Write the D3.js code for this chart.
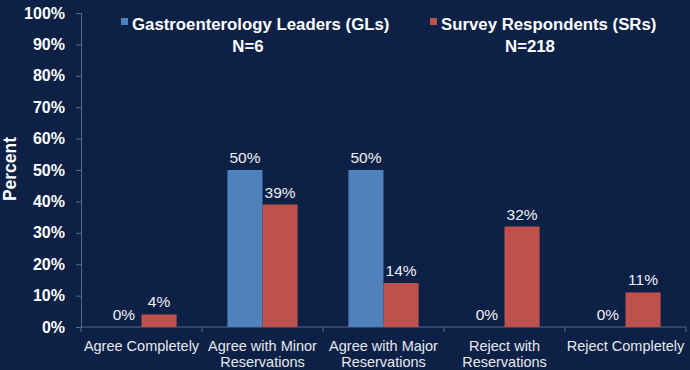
<!DOCTYPE html>
<html>
<head>
<meta charset="utf-8">
<script src="https://cdn.jsdelivr.net/npm/d3@7"></script>
<style>
  html, body { margin: 0; padding: 0; background: #0b2145; }
  svg { display: block; font-family: Arial, "Liberation Sans", sans-serif; }
</style>
</head>
<body>
<div id="chart"></div>
<script>
// Data
const categories = [
  ['Agree Completely'],
  ['Agree with Minor', 'Reservations'],
  ['Agree with Major', 'Reservations'],
  ['Reject with', 'Reservations'],
  ['Reject Completely']
];
const seriesNames = ['Gastroenterology Leaders (GLs)', 'Survey Respondents (SRs)'];
const seriesN = ['N=6', 'N=218'];
const glValues = [0, 50, 50, 0, 0];
const srValues = [4, 39, 14, 32, 11];
const yTicks = [0, 10, 20, 30, 40, 50, 60, 70, 80, 90, 100];

const colors = ['#4f81bd', '#c0504d'];
const width = 690;
const height = 370;
const plotLeft = 81, plotRight = 686, plotTop = 13, plotBottom = 327;

const svg = d3.select('#chart').append('svg')
  .attr('width', width)
  .attr('height', height);

svg.append('rect')
  .attr('width', width)
  .attr('height', height)
  .attr('fill', '#0c2145');

const x = d3.scaleBand()
  .domain(d3.range(categories.length))
  .range([plotLeft, plotRight])
  .paddingInner(0.42)
  .paddingOuter(0.21);

const xSeries = d3.scaleBand()
  .domain([0, 1])
  .range([0, x.bandwidth()]);

const y = d3.scaleLinear()
  .domain([0, 100])
  .range([plotBottom, plotTop]);

// y axis
const yAxis = svg.append('g')
  .attr('transform', `translate(${plotLeft},0)`)
  .call(d3.axisLeft(y).tickValues(yTicks).tickFormat(d => d + '%').tickSize(5).tickPadding(11));
yAxis.select('.domain').attr('stroke', '#5a6a84');
yAxis.selectAll('.tick line').attr('stroke', '#5a6a84');
yAxis.selectAll('.tick text')
  .attr('fill', '#ffffff')
  .attr('font-size', '16px')
  .attr('font-weight', 'bold')
  .attr('font-family', 'Arial, "Liberation Sans", sans-serif');

// x axis (ticks at category boundaries)
const boundaries = d3.range(categories.length + 1).map(i => plotLeft + i * x.step());
svg.append('line')
  .attr('x1', plotLeft).attr('x2', plotRight)
  .attr('y1', plotBottom).attr('y2', plotBottom)
  .attr('stroke', '#5a6a84');
svg.selectAll('.xtick')
  .data(boundaries)
  .enter()
  .append('line')
  .attr('x1', d => d).attr('x2', d => d)
  .attr('y1', plotBottom).attr('y2', plotBottom + 5)
  .attr('stroke', '#5a6a84');

// category labels
const catLabels = svg.selectAll('.cat')
  .data(categories)
  .enter()
  .append('text')
  .attr('text-anchor', 'middle')
  .attr('fill', '#e6e9ef')
  .attr('font-size', '14.5px');
catLabels.each(function(lines, i) {
  const t = d3.select(this);
  lines.forEach((line, j) => {
    t.append('tspan')
      .attr('x', x(i) + x.bandwidth() / 2)
      .attr('y', 351 + j * 16)
      .text(line);
  });
});

// bars
const data = [glValues, srValues];
data.forEach((vals, s) => {
  svg.selectAll('.bar' + s)
    .data(vals)
    .enter()
    .append('rect')
    .attr('x', (d, i) => x(i) + xSeries(s))
    .attr('width', xSeries.bandwidth())
    .attr('y', d => y(d))
    .attr('height', d => plotBottom - y(d))
    .attr('fill', colors[s]);

  svg.selectAll('.lab' + s)
    .data(vals)
    .enter()
    .append('text')
    .attr('x', (d, i) => x(i) + xSeries(s) + xSeries.bandwidth() / 2)
    .attr('y', d => y(d) - 7)
    .attr('text-anchor', 'middle')
    .attr('fill', '#eef0f4')
    .attr('font-size', '15.5px')
    .text(d => d + '%');
});

// y title
svg.append('text')
  .attr('transform', 'translate(16,169) rotate(-90)')
  .attr('text-anchor', 'middle')
  .attr('fill', '#ffffff')
  .attr('font-size', '17.5px')
  .attr('font-weight', 'bold')
  .text('Percent');

// legend
const legendX = [121, 430];
const nX = [248, 530];
seriesNames.forEach((name, s) => {
  svg.append('rect')
    .attr('x', legendX[s])
    .attr('y', 18)
    .attr('width', 7)
    .attr('height', 7)
    .attr('fill', colors[s]);
  svg.append('text')
    .attr('x', legendX[s] + 11)
    .attr('y', 30)
    .attr('fill', '#ffffff')
    .attr('font-size', '16.8px')
    .attr('font-weight', 'bold')
    .text(name);
  svg.append('text')
    .attr('x', nX[s])
    .attr('y', 52)
    .attr('text-anchor', 'middle')
    .attr('fill', '#ffffff')
    .attr('font-size', '16.8px')
    .attr('font-weight', 'bold')
    .text(seriesN[s]);
});
</script>
</body>
</html>
